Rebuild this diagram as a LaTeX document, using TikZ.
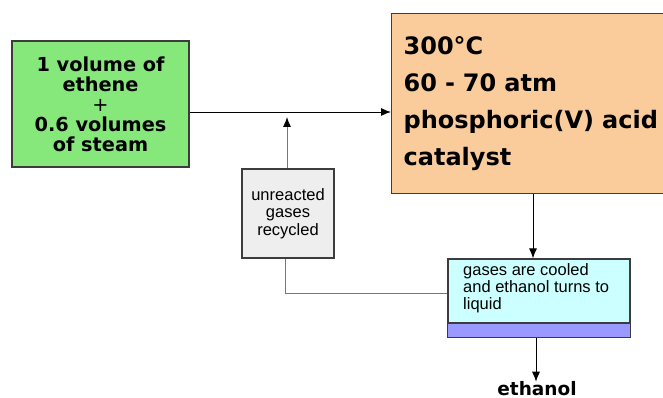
\documentclass[tikz,border=0pt]{standalone}
\usepackage{fontspec}
\newfontfamily\djv{DejaVu Sans}
\newfontfamily\lib{Liberation Sans}
\usetikzlibrary{arrows.meta}
\definecolor{boxgreen}{RGB}{134,232,122}
\definecolor{boxorange}{RGB}{250,204,156}
\definecolor{boxgray}{RGB}{238,238,238}
\definecolor{boxcyan}{RGB}{204,255,255}
\definecolor{boxpurple}{RGB}{153,153,255}
\definecolor{edge}{RGB}{60,60,60}
\definecolor{recyc}{RGB}{120,120,120}
\begin{document}
\begin{tikzpicture}[x=1pt,y=-1pt,
  box/.style={draw=edge,line width=1.2pt,inner sep=0pt},
  arr/.style={draw=black,line width=0.9pt,-{Latex[length=10pt,width=8pt]}},
  garr/.style={draw=recyc,line width=0.9pt,-{Latex[length=10pt,width=8pt,color=black]}},
  gline/.style={draw=recyc,line width=0.9pt}]
\useasboundingbox (0,0) rectangle (663,398);
% green
\node[box,fill=boxgreen,minimum width=177pt,minimum height=126pt,align=center,
  font={\djv\fontsize{19.3}{20}\selectfont\bfseries}] (green) at (100.5,104)
  {1 volume of\\ethene\\{\mdseries +}\\0.6 volumes\\of steam};
% orange
\node[box,fill=boxorange,anchor=north west,minimum width=275pt,minimum height=180pt,
  text width=270pt,align=left,inner xsep=12pt,
  font={\djv\fontsize{24}{37}\selectfont\bfseries}] (orange) at (391,13)
  {300\textdegree C\\60 - 70 atm\\phosphoric(V) acid\\catalyst};
% gray
\node[box,fill=boxgray,minimum width=92pt,minimum height=89pt,align=center,
  font={\lib\fontsize{16.5}{17.5}\selectfont}] (gray) at (288,213.5)
  {unreacted\\gases\\recycled};
% cyan
\node[box,fill=boxcyan,minimum width=182pt,minimum height=78pt] (cyan) at (539,298) {};
\fill[boxpurple] (448,323) rectangle (630,337);
\draw[edge,line width=1.2pt] (448,323) -- (630,323);
\draw[box] (cyan.north west) rectangle (cyan.south east);
\node[anchor=north west,align=left,inner sep=0pt,
  font={\lib\fontsize{16.5}{17}\selectfont}] (ctext) at (463,263)
  {gases are cooled\\and ethanol turns to\\liquid};
% ethanol
\node[anchor=base,inner sep=0pt,font={\djv\fontsize{18.5}{20}\selectfont\bfseries}] (eth) at (537,395) {ethanol};
% connectors
\draw[arr] ([yshift=-8pt]green.east) -- ([yshift=-8pt]green.east -| orange.west);
\coordinate (tip) at (287,117);
\draw[garr] (gray.north -| tip) -- (tip);
\draw[gline] ([xshift=-3pt]gray.south) |- ([yshift=5pt]cyan.west);
\draw[arr] ([xshift=-6pt]cyan.north |- orange.south) -- ([xshift=-6pt]cyan.north);
\draw[arr] ([xshift=-3pt]cyan.south) -- ([xshift=-3pt,yshift=-1pt]cyan.south |- eth.north);
\end{tikzpicture}
\end{document}
